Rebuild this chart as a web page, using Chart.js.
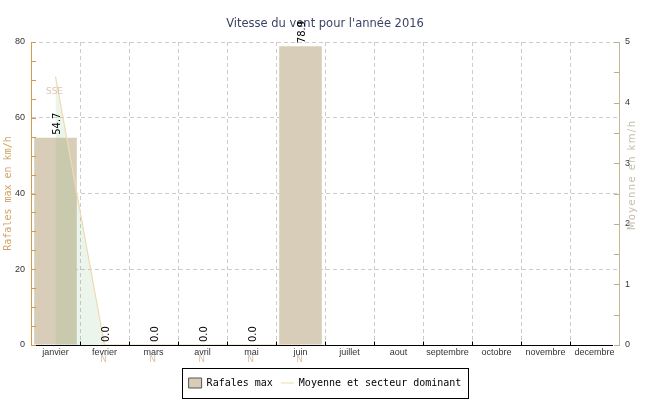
<!DOCTYPE html>
<html><head><meta charset="utf-8">
<script src="https://cdn.jsdelivr.net/npm/chart.js@4"></script>
<style>html,body{margin:0;padding:0;background:#fff}</style>
</head><body>
<canvas id="c" width="650" height="400"></canvas>
<script>
const categories = ['janvier','fevrier','mars','avril','mai','juin','juillet','aout','septembre','octobre','novembre','decembre'];
const rafalesMax = [54.7, 0.0, 0.0, 0.0, 0.0, 78.9, null, null, null, null, null, null];
const moyenne = [4.43, 0, 0, 0, 0, 0, null, null, null, null, null, null];
const secteurDominant = ['SSE','N','N','N','N','N', null, null, null, null, null, null];
const leftTickLabels = [0, 20, 40, 60, 80];
const rightTickLabels = [0, 1, 2, 3, 4, 5];

const decor = {
  id: 'decor',
  afterDatasetsDraw(chart) {
    const ctx = chart.ctx, ca = chart.chartArea;
    const x = chart.scales.x, yL = chart.scales.y, yR = chart.scales.y1;
    ctx.save();
    ctx.lineWidth = 1;
    // x axis line and inner tick marks
    ctx.strokeStyle = '#000';
    const by = Math.round(ca.bottom) + 0.5;
    ctx.beginPath(); ctx.moveTo(ca.left + 5, by); ctx.lineTo(ca.right - 6, by); ctx.stroke();
    const n = categories.length;
    for (let i = 1; i < n; i++) {
      const px = Math.round((x.getPixelForValue(i - 1) + x.getPixelForValue(i)) / 2) + 0.5;
      ctx.beginPath(); ctx.moveTo(px, by); ctx.lineTo(px, by - 4); ctx.stroke();
    }
    // left ticks (inward)
    ctx.strokeStyle = '#d89a4a';
    yL.ticks.forEach(t => {
      const py = Math.round(yL.getPixelForValue(t.value)) + 0.5;
      ctx.beginPath(); ctx.moveTo(ca.left, py); ctx.lineTo(ca.left + 5, py); ctx.stroke();
    });
    // right ticks (inward)
    ctx.strokeStyle = '#b8ae9c';
    yR.ticks.forEach(t => {
      const py = Math.round(yR.getPixelForValue(t.value)) + 0.5;
      ctx.beginPath(); ctx.moveTo(ca.right - 5, py); ctx.lineTo(ca.right, py); ctx.stroke();
    });
    // bar value labels
    const bm = chart.getDatasetMeta(0);
    ctx.fillStyle = '#000';
    ctx.font = '10px "DejaVu Sans"';
    bm.data.forEach((el, i) => {
      const v = rafalesMax[i];
      if (v === null || v === undefined) return;
      ctx.save();
      ctx.translate(el.x + 1.5, el.y - 3);
      ctx.rotate(-Math.PI / 2);
      ctx.textAlign = 'left';
      ctx.textBaseline = 'middle';
      ctx.fillText(v.toFixed(1), 0, 0);
      ctx.restore();
    });
    // dominant sector labels
    const lm = chart.getDatasetMeta(1);
    ctx.fillStyle = '#d8c6ac';
    ctx.font = '9px "DejaVu Sans"';
    ctx.textAlign = 'center';
    ctx.textBaseline = 'middle';
    lm.data.forEach((pt, i) => {
      const s = secteurDominant[i];
      if (!s || moyenne[i] === null) return;
      ctx.fillText(s, pt.x - 1, pt.y + 15);
    });
    // right axis title (reads bottom to top)
    ctx.save();
    ctx.fillStyle = '#c4bcae';
    ctx.font = '10px "DejaVu Sans"';
    try { ctx.letterSpacing = '1.4px'; } catch (e) {}
    ctx.translate(632, 175);
    ctx.rotate(-Math.PI / 2);
    ctx.textAlign = 'center';
    ctx.textBaseline = 'middle';
    ctx.fillText('Moyenne en km/h', 0, 0);
    ctx.restore();
    ctx.restore();
  },
  afterDraw(chart) {
    const lg = chart.legend;
    if (!lg || !lg.legendHitBoxes || !lg.legendHitBoxes.length) return;
    const hb = lg.legendHitBoxes;
    let l = Infinity, r = -Infinity, t = Infinity, b = -Infinity;
    hb.forEach(h => { l = Math.min(l, h.left); r = Math.max(r, h.left + h.width); t = Math.min(t, h.top); b = Math.max(b, h.top + h.height); });
    const cy = (t + b) / 2;
    const ctx = chart.ctx;
    ctx.save();
    ctx.strokeStyle = '#000';
    ctx.lineWidth = 1;
    ctx.strokeRect(Math.round(l - 7) + 0.5, Math.round(cy - 15) + 0.5, Math.round(r - l + 13), 30);
    ctx.restore();
  }
};

new Chart(document.getElementById('c'), {
  data: {
    labels: categories,
    datasets: [
      { type: 'bar', label: 'Rafales max', data: rafalesMax, yAxisID: 'y',
        backgroundColor: '#d8cdb9', borderWidth: 0,
        barPercentage: 0.87, categoryPercentage: 1.0, order: 2 },
      { type: 'line', label: 'Moyenne et secteur dominant', data: moyenne, yAxisID: 'y1',
        borderColor: '#f0d9b2', borderWidth: 1.2, pointRadius: 0, tension: 0,
        fill: 'origin', backgroundColor: 'rgba(100,170,100,0.12)', order: 1 }
    ]
  },
  options: {
    responsive: false,
    animation: false,
    layout: { padding: { left: 0, right: 0, top: 0, bottom: 2 } },
    plugins: {
      tooltip: { enabled: false },
      title: {
        display: true, text: "Vitesse du vent pour l'année 2016",
        color: '#3b4465', font: { family: 'DejaVu Sans', size: 11.5, weight: 'normal' },
        padding: { top: 17, bottom: 11.2 }
      },
      legend: {
        position: 'bottom',
        labels: {
          usePointStyle: true, pointStyleWidth: 13, boxHeight: 11,
          padding: 8, color: '#000',
          font: { family: 'DejaVu Sans Mono', size: 10 },
          sort: (a, b) => a.datasetIndex - b.datasetIndex,
          generateLabels: (chart) => chart.data.datasets.map((ds, i) => ({
            text: ds.label, datasetIndex: i,
            fillStyle: i === 0 ? '#d8cdb9' : 'rgba(0,0,0,0)',
            strokeStyle: i === 0 ? '#555' : '#f0d9b2',
            lineWidth: 1,
            pointStyle: i === 0 ? 'rect' : 'line',
            hidden: false
          }))
        }
      }
    },
    scales: {
      x: {
        grid: { offset: true, drawTicks: false,
          color: c => (c.index === 0 || c.index >= categories.length) ? 'rgba(0,0,0,0)' : '#cccccc' },
        border: { display: false, dash: [4, 3] },
        ticks: { color: '#333', font: { family: 'Liberation Sans', size: 9 }, padding: 2, maxRotation: 0, autoSkip: false },
        afterFit: s => { s.height = 25; }
      },
      y: {
        position: 'left', min: 0, max: 80,
        ticks: { stepSize: 5, color: '#333', font: { family: 'Liberation Sans', size: 9 }, padding: 6,
          callback: v => leftTickLabels.includes(v) ? String(v) : '' },
        grid: { drawTicks: false,
          color: c => (c.tick && c.tick.value > 0 && c.tick.value % 20 === 0) ? '#cccccc' : 'rgba(0,0,0,0)' },
        border: { display: true, color: '#d89a4a', dash: [4, 3] },
        title: { display: true, text: 'Rafales max en km/h', color: '#d4a264',
          font: { family: 'DejaVu Sans Mono', size: 10 }, padding: { top: 2, bottom: 0 } },
        afterFit: s => { s.width = 31; }
      },
      y1: {
        position: 'right', min: 0, max: 5,
        ticks: { stepSize: 0.5, color: '#333', font: { family: 'Liberation Sans', size: 9 }, padding: 6,
          callback: v => rightTickLabels.includes(v) ? String(v) : '' },
        grid: { drawOnChartArea: false, drawTicks: false },
        border: { display: true, color: '#c8b898' },
        afterFit: s => { s.width = 31; }
      }
    }
  },
  plugins: [decor]
});
</script>
</body></html>
